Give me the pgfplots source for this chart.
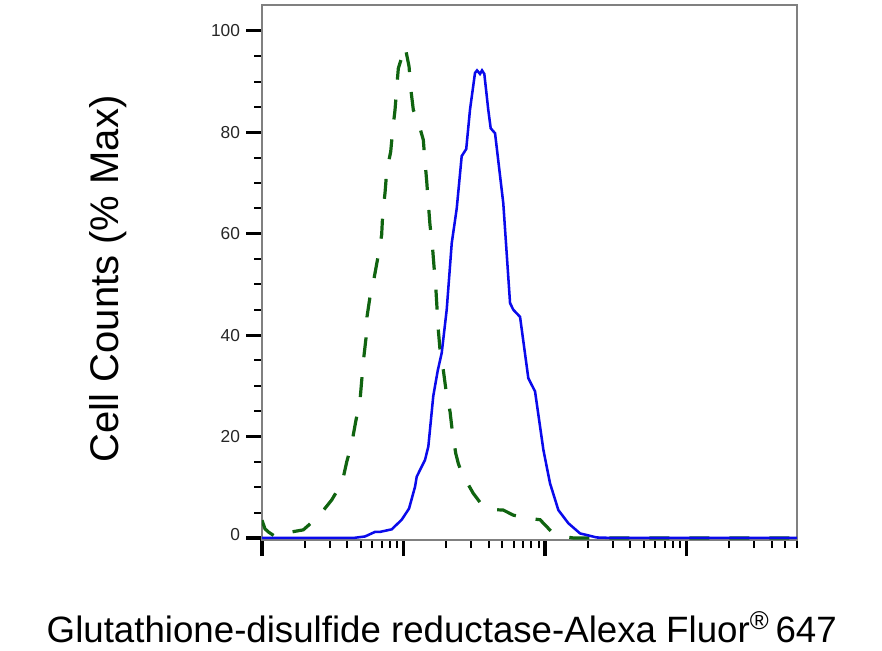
\documentclass[border=0pt]{standalone}
\usepackage{pgfplots}
\pgfplotsset{compat=1.18}
\usepackage{fontspec}
\setmainfont{Liberation Sans}
\definecolor{isoGreen}{RGB}{16,100,16}
\definecolor{abBlue}{RGB}{10,10,235}
\begin{document}
\begin{tikzpicture}
\path[use as bounding box] (-196.5pt,-82.5pt) rectangle (465pt,405pt);
\begin{axis}[
    scale only axis,
    width=401.25pt, height=401.25pt,
    xmode=log,
    xmin=1, xmax=6030,
    ymin=-0.4, ymax=105.1,
    xtick={1,10,100,1000},
    minor xtick={2,3,4,5,6,7,8,9,20,30,40,50,60,70,80,90,200,300,400,500,600,700,800,900,2000,3000,4000,5000,6000},
    xticklabels={},
    ytick={0,20,40,60,80,100},
    yticklabels={\raisebox{5pt}{0},20,40,60,80,100},
    minor ytick={5,10,15,25,30,35,45,50,55,65,70,75,85,90,95},
    tick pos=left,
    tick align=outside,
    major tick length=12pt,
    minor tick length=6pt,
    every major tick/.append style={black, line width=2.4pt},
    every minor tick/.append style={black, line width=1.5pt},
    axis line style={gray, line width=1.5pt},
    /pgf/number format/assume math mode=true,
    yticklabel style={font=\fontsize{13}{13}\selectfont, xshift=-1pt, text=black!85},
    xlabel={Glutathione-disulfide reductase-Alexa Fluor\textsuperscript{\textregistered}\,647},
    xlabel style={at={(axis description cs:0.336,-0.1907)}, anchor=base, font=\fontsize{27.5}{27.5}\selectfont},
    ylabel={Cell Counts (\% Max)},
    ylabel style={at={(axis description cs:-0.269,0.488)}, anchor=base, font=\fontsize{30}{30}\selectfont},
]
% isotype control (dashed green)
\addplot[isoGreen, line width=2.4pt, dash pattern=on 15pt off 15pt] coordinates {
(1,3.5) (1.05,1.8) (1.108,1.2) (1.236,0.3) (1.414,0.9) (1.958,1.6) (2.50,4.2)
(3.11,7.5) (3.69,11) (3.97,15) (4.31,18.7) (4.59,22.9) (4.93,27.2) (5.07,31.2)
(5.23,35.4) (5.43,39.4) (5.52,43.6) (5.80,47.6) (6.22,51.5) (6.64,55.8) (7.01,59.8)
(7.13,64) (7.40,68) (7.61,72.3) (8.12,76.2) (8.39,80.5) (8.71,84.4) (8.95,88.7)
(9.19,92.6) (10.25,96.9) (10.94,93) (11.24,88.7) (11.73,84.4) (12.6,82.4) (13.8,78.5)
(14.19,74.2) (14.59,70.3) (14.97,66) (15.39,61.7) (15.98,57.8) (16.43,53.5) (16.89,49.6)
(17.25,45.3) (17.62,41) (18.11,37.1) (19.11,33.1) (19.95,29.2) (21.32,24.9) (22.13,21)
(23.38,16.7) (24.38,14.7) (25.77,12.8) (31.1,8.8) (36.6,6.2) (42.9,5.6) (50.7,5.5)
(59.7,4.5) (74.6,3.9) (92.2,3.6) (111.5,1.2) (127.7,0.4) (158.5,0) (6030,0)
};
% Glutathione-disulfide reductase (solid blue)
\addplot[abBlue, line width=1.9pt] coordinates {
(1,0) (4.42,0) (5.35,0.3) (6.29,1.2) (6.82,1.2) (8.25,1.7) (9.71,3.6) (10.94,5.8)
(12.06,10.1) (12.4,12.1) (13.8,14.7) (14.19,15.4) (14.97,18) (16.23,28) (17.45,33)
(18.62,36.5) (20.19,45) (21.91,58.1) (23.77,65) (25.77,75.3) (27.74,76.7) (29.51,84.5)
(32.0,91.7) (33.07,92.2) (34.72,91.5) (35.88,92.2) (37.24,91.5) (39.73,84.4) (41.3,80.8)
(44.34,79.8) (50.7,66) (56.6,46.3) (59.7,45) (66.6,43.6) (76.2,31.5) (85.0,28.9)
(97.3,17.4) (108.4,10.8) (124.2,5.5) (146.2,2.9) (176.7,0.9) (231.7,0.1) (302,0) (6030,0)
};
\end{axis}
\end{tikzpicture}
\end{document}
